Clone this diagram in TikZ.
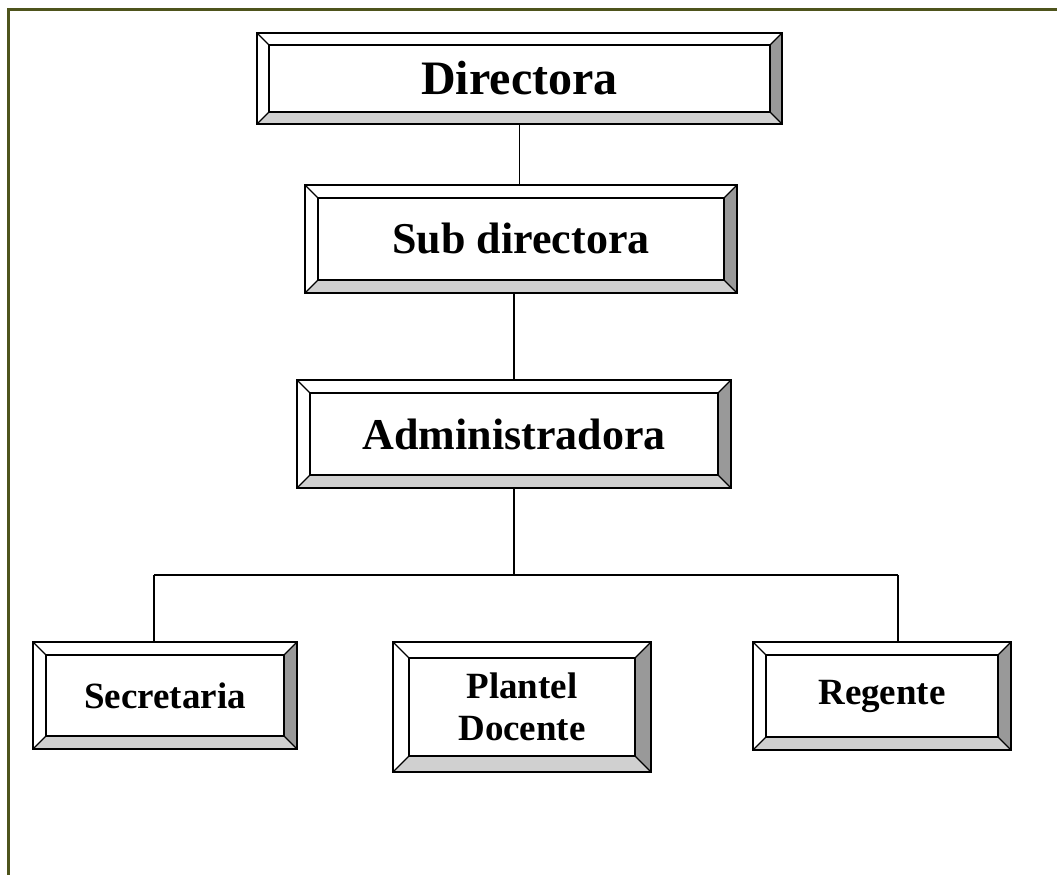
\documentclass[tikz,border=0pt]{standalone}
\usepackage{fontspec}
\setmainfont{Liberation Serif}
\usetikzlibrary{calc}

\definecolor{olive}{RGB}{78,84,28}
\definecolor{bevdark}{RGB}{153,153,153}
\definecolor{bevlight}{RGB}{208,208,208}

\tikzset{
	orgbox/.style={draw, line width=1.4pt, fill=white, inner sep=0pt, align=center,
		font=\bfseries,
		path picture={
			\path (path picture bounding box.south west) coordinate (bsw)
			      (path picture bounding box.north east) coordinate (bne)
			      (path picture bounding box.south east) coordinate (bse)
			      (path picture bounding box.north west) coordinate (bnw);
			\path ($(bsw)+(#1pt,#1pt)$) coordinate (isw)
			      ($(bne)+(-#1pt,-#1pt)$) coordinate (ine)
			      ($(bse)+(-#1pt,#1pt)$) coordinate (ise)
			      ($(bnw)+(#1pt,-#1pt)$) coordinate (inw);
			\fill[bevdark] (bne) -- (bse) -- (ise) -- (ine) -- cycle;
			\fill[bevlight] (bsw) -- (bse) -- (ise) -- (isw) -- cycle;
			\draw[line width=1.4pt] (isw) rectangle (ine);
			\draw[line width=1.1pt] (bsw) -- (isw) (bse) -- (ise)
			      (bne) -- (ine) (bnw) -- (inw);
		}},
	orgbox/.default=13,
	link/.style={line width=1.2pt},
	frame/.style={line width=3pt, color=olive}
}

\begin{document}
\begin{tikzpicture}[x=1pt, y=-1pt]
		%%%%% START %%%%%
		\useasboundingbox (0, 0) rectangle (1057, 875);
		
		\draw[frame] (8, 875) -- (8, 10) -- (1057, 10);
		
		\node[orgbox=12, minimum width=525pt, minimum height=91pt,
			font=\bfseries\fontsize{48}{52}\selectfont] (dir) at (519.5, 78.5) {Directora};
		\node[orgbox, minimum width=432pt, minimum height=108pt,
			font=\bfseries\fontsize{44}{48}\selectfont] (sub) at (521, 239) {Sub directora};
		\node[orgbox, minimum width=434pt, minimum height=108pt,
			font=\bfseries\fontsize{44}{48}\selectfont] (adm) at (514, 434) {Administradora};
		
		\node[orgbox, minimum width=264pt, minimum height=107pt,
			font=\bfseries\fontsize{37}{40}\selectfont] (sec) at (165, 695.5) {Secretaria};
		\node[orgbox=16, minimum width=258pt, minimum height=130pt,
			font=\bfseries\fontsize{37}{42}\selectfont] (pla) at (522, 707) {Plantel\\Docente};
		\node[orgbox, minimum width=258pt, minimum height=108pt,
			font=\bfseries\fontsize{37}{40}\selectfont] (reg) at (882, 696) {Regente};
		
		\coordinate (bus) at (514, 575);
		\coordinate (busl) at (154, 575);
		\coordinate (busr) at (898, 575);
		
		\draw[link] (dir.south) -- (dir.south |- sub.north);
		\draw[link] (adm.north |- sub.south) -- (adm.north);
		\draw[link] (adm.south) -- (bus);
		\draw[link] (busl) -- (busr);
		\draw[link] (busl) -- (busl |- sec.north);
		\draw[link] (busr) -- (busr |- reg.north);
		
		%%%%% END %%%%%
	\end{tikzpicture}
\end{document}
